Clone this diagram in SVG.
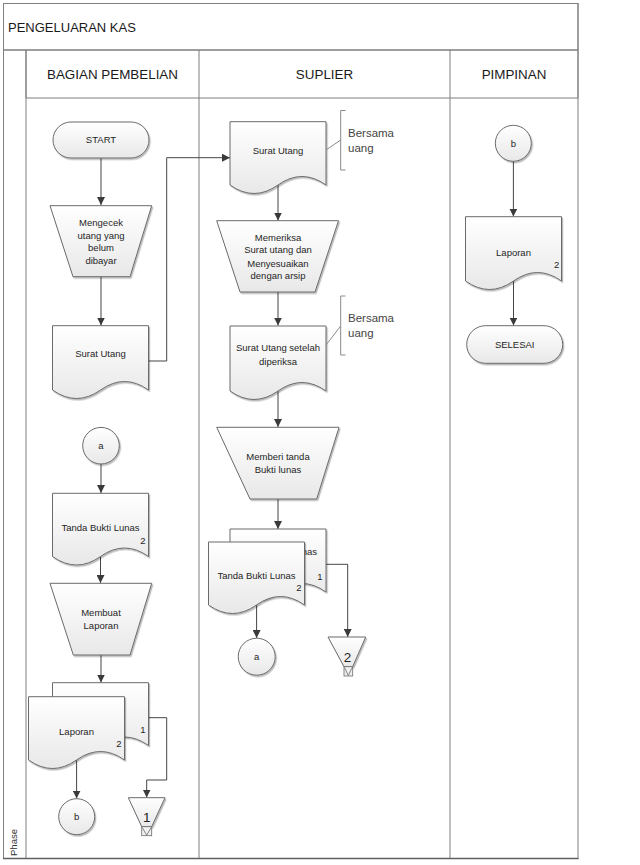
<svg xmlns="http://www.w3.org/2000/svg" width="640" height="865" viewBox="0 0 640 865">
<defs>
<linearGradient id="g" x1="0" y1="0" x2="0" y2="1"><stop offset="0" stop-color="#ffffff"/><stop offset="1" stop-color="#e8e8e8"/></linearGradient>
<linearGradient id="gh" x1="0" y1="0" x2="0" y2="1"><stop offset="0" stop-color="#fbfbfb"/><stop offset="1" stop-color="#ebebeb"/></linearGradient>
<linearGradient id="gp" x1="0" y1="0" x2="1" y2="0"><stop offset="0" stop-color="#e0e0e0"/><stop offset="0.6" stop-color="#f5f5f5"/><stop offset="1" stop-color="#e4e4e4"/></linearGradient>
<filter id="ds" x="-10%" y="-10%" width="130%" height="130%"><feDropShadow dx="1.2" dy="1.5" stdDeviation="0.7" flood-color="#000" flood-opacity="0.28"/></filter>
<marker id="ah" markerUnits="userSpaceOnUse" markerWidth="8" markerHeight="8" refX="8" refY="4" orient="auto"><path d="M0,0 L8,4 L0,8 z" fill="#3a3a3a"/></marker>
</defs>
<style>
.s{fill:url(#g);stroke:#6b6b6b;stroke-width:1;filter:url(#ds)}
.c{fill:none;stroke:#454545;stroke-width:1;marker-end:url(#ah)}
.n{fill:none;stroke:#454545;stroke-width:1}
.t{font-family:"Liberation Sans",Arial,sans-serif;font-size:9.5px;fill:#1f1f1f;text-anchor:middle}
.h{font-family:"Liberation Sans",Arial,sans-serif;font-size:13.4px;fill:#1a1a1a;text-anchor:middle}
.b{font-family:"Liberation Sans",Arial,sans-serif;font-size:11.5px;fill:#444}
.k{font-family:"Liberation Sans",Arial,sans-serif;font-size:13.5px;fill:#1f1f1f;text-anchor:middle}
.ln{stroke:#7f7f7f;stroke-width:1;fill:none}
.an{stroke:#8a8a8a;stroke-width:1;fill:none}
</style>

<g id="swimlane">
<rect x="3.5" y="3.5" width="574.5" height="855" fill="#ffffff" class="ln"/>
<rect x="3.5" y="3.5" width="574.5" height="46.5" fill="url(#gh)" class="ln"/>
<rect x="3.5" y="50" width="22.5" height="808.5" fill="url(#gp)" class="ln"/>
<rect x="26" y="50" width="552" height="48" fill="url(#gh)" class="ln"/>
<line x1="199" y1="50" x2="199" y2="858.5" class="ln"/>
<line x1="450" y1="50" x2="450" y2="858.5" class="ln"/>
<line x1="3" y1="858.5" x2="578.5" y2="858.5" stroke="#606060" stroke-width="1.5"/>
<text x="8" y="31.5" font-family="Liberation Sans, Arial, sans-serif" font-size="13px" fill="#1a1a1a">PENGELUARAN KAS</text>
<text x="112.5" y="79" class="h">BAGIAN PEMBELIAN</text>
<text x="324.5" y="79" class="h">SUPLIER</text>
<text x="514" y="79" class="h">PIMPINAN</text>
<text transform="translate(16.8,842.5) rotate(-90)" font-family="Liberation Sans, Arial, sans-serif" font-size="9.5px" fill="#333" text-anchor="middle">Phase</text>
</g>

<g id="connectors">
<path class="c" d="M101,158 V205"/>
<path class="c" d="M101,277 V325.5"/>
<path class="c" d="M148.5,361 H166.7 V157.7 H230"/>
<path class="c" d="M278,185 V220.5"/>
<path class="c" d="M278,292 V325.5"/>
<path class="c" d="M278,391 V427"/>
<path class="c" d="M278,499 V529"/>
<path class="c" d="M326,564.3 H347.7 V637"/>
<path class="c" d="M256.6,605 V638"/>
<path class="c" d="M101,464 V493"/>
<path class="c" d="M100.5,556.5 V583"/>
<path class="c" d="M101,655 V682.5"/>
<path class="c" d="M148.5,717.7 H166.7 V780 H146.7 V797.5"/>
<path class="c" d="M76.6,760 V798.5"/>
<path class="c" d="M513.4,161.3 V216.5"/>
<path class="c" d="M513.5,281 V325.5"/>
</g>

<g id="start">
<rect x="53" y="122" width="96" height="36" rx="18" class="s"/>
<text x="101" y="143.4" class="t">START</text>
</g>

<g id="mengecek">
<path d="M50,205.7 H151.7 L130,276.7 H73 Z" class="s"/>
<text class="t" x="101"><tspan x="101" y="226">Mengecek</tspan><tspan x="101" y="238.5">utang yang</tspan><tspan x="101" y="251">belum</tspan><tspan x="101" y="264">dibayar</tspan></text>
</g>

<g id="surat-utang-1">
<path d="M52.5,325.7 H148.5 V390 Q124.5,373 100.5,390 Q76.5,407 52.5,390 Z" class="s"/>
<text x="100.5" y="357.4" class="t">Surat Utang</text>
</g>

<g id="surat-utang-2">
<path d="M230,121.7 H326 V185 Q302,168 278,185 Q254,202 230,185 Z" class="s"/>
<text x="278" y="154" class="t">Surat Utang</text>
</g>

<g id="annotation-1">
<line x1="326" y1="150" x2="340.7" y2="140" class="an"/>
<path d="M345.5,110.5 H340.7 V170 H345.5" class="an"/>
<text x="348" y="137" class="b">Bersama</text>
<text x="348" y="152" class="b">uang</text>
</g>

<g id="memeriksa">
<path d="M216.7,220.7 H338.5 L315,292 H240 Z" class="s"/>
<text class="t"><tspan x="278" y="240.7">Memeriksa</tspan><tspan x="278" y="253.4">Surat utang dan</tspan><tspan x="278" y="266.7">Menyesuaikan</tspan><tspan x="278" y="279.4">dengan arsip</tspan></text>
</g>

<g id="surat-utang-diperiksa">
<path d="M230,326 H326 V391 Q302,374 278,391 Q254,408 230,391 Z" class="s"/>
<text class="t"><tspan x="278" y="351.2">Surat Utang setelah</tspan><tspan x="278" y="364.8">diperiksa</tspan></text>
</g>

<g id="annotation-2">
<line x1="326" y1="345" x2="340.7" y2="326" class="an"/>
<path d="M345.5,296 H340.7 V355 H345.5" class="an"/>
<text x="348" y="322" class="b">Bersama</text>
<text x="348" y="337" class="b">uang</text>
</g>

<g id="memberi">
<path d="M216.7,427.3 H339 L316.7,499 H250 Z" class="s"/>
<text class="t"><tspan x="278" y="460">Memberi tanda</tspan><tspan x="278" y="473.4">Bukti lunas</tspan></text>
</g>

<g id="tanda-bukti-lunas-multi">
<path d="M230,529 H326 V592 Q302,575 278,592 Q254,609 230,592 Z" class="s"/>
<text x="278" y="554.5" class="t">Tanda Bukti Lunas</text>
<text x="320" y="580" class="t">1</text>
<path d="M208.5,542 H304.5 V605 Q280.5,588 256.5,605 Q232.5,622 208.5,605 Z" class="s"/>
<text x="256.5" y="579" class="t">Tanda Bukti Lunas</text>
<text x="299" y="591.4" class="t">2</text>
</g>

<g id="connector-a-2">
<circle cx="256.7" cy="656.7" r="18.5" class="s"/>
<text x="256.7" y="660" class="t">a</text>
</g>

<g id="storage-2">
<path d="M328,637 H365.7 L352.7,666.7 H344 Z" class="s"/>
<rect x="344" y="666.7" width="8.7" height="9.3" fill="#f0f0f0" stroke="#6b6b6b" stroke-width="0.8"/>
<path d="M344.5,667.5 L348.3,675.5 L352.2,667.5" fill="none" stroke="#6b6b6b" stroke-width="0.8"/>
<text x="347.5" y="661.5" class="k">2</text>
</g>

<g id="connector-a-1">
<circle cx="101" cy="445.7" r="18.3" class="s"/>
<text x="101" y="449" class="t">a</text>
</g>

<g id="tanda-bukti-lunas-1">
<path d="M52.5,493.3 H148.5 V556.5 Q124.5,539.5 100.5,556.5 Q76.5,573.5 52.5,556.5 Z" class="s"/>
<text x="100.5" y="531" class="t">Tanda Bukti Lunas</text>
<text x="143" y="544.4" class="t">2</text>
</g>

<g id="membuat-laporan">
<path d="M50,583.3 H151.7 L130,655 H73.3 Z" class="s"/>
<text class="t"><tspan x="101" y="615.7">Membuat</tspan><tspan x="101" y="629">Laporan</tspan></text>
</g>

<g id="laporan-multi">
<path d="M52.5,682.7 H148.5 V745.5 Q124.5,728.5 100.5,745.5 Q76.5,762.5 52.5,745.5 Z" class="s"/>
<text x="143" y="732.7" class="t">1</text>
<path d="M28.5,696.7 H124.5 V760 Q100.5,743 76.5,760 Q52.5,777 28.5,760 Z" class="s"/>
<text x="76.5" y="735" class="t">Laporan</text>
<text x="119" y="747.4" class="t">2</text>
</g>

<g id="connector-b-1">
<circle cx="76.7" cy="816.7" r="18" class="s"/>
<text x="76.7" y="820" class="t">b</text>
</g>

<g id="storage-1">
<path d="M128.3,797.7 H165 L151.7,826.7 H141.7 Z" class="s"/>
<rect x="141.7" y="826.7" width="10" height="9" fill="#f0f0f0" stroke="#6b6b6b" stroke-width="0.8"/>
<path d="M142.2,827.5 L146.7,835.2 L151.2,827.5" fill="none" stroke="#6b6b6b" stroke-width="0.8"/>
<text x="146.7" y="821.5" class="k">1</text>
</g>

<g id="connector-b-2">
<circle cx="513.3" cy="143.3" r="18" class="s"/>
<text x="513.3" y="146.6" class="t">b</text>
</g>

<g id="laporan-pimpinan">
<path d="M465.5,216.7 H561.5 V281 Q537.5,264 513.5,281 Q489.5,298 465.5,281 Z" class="s"/>
<text x="513.5" y="256.4" class="t">Laporan</text>
<text x="556.7" y="268.4" class="t">2</text>
</g>

<g id="selesai">
<rect x="466.7" y="325.7" width="96" height="37.6" rx="18.8" class="s"/>
<text x="514.7" y="347.9" class="t">SELESAI</text>
</g>
</svg>
